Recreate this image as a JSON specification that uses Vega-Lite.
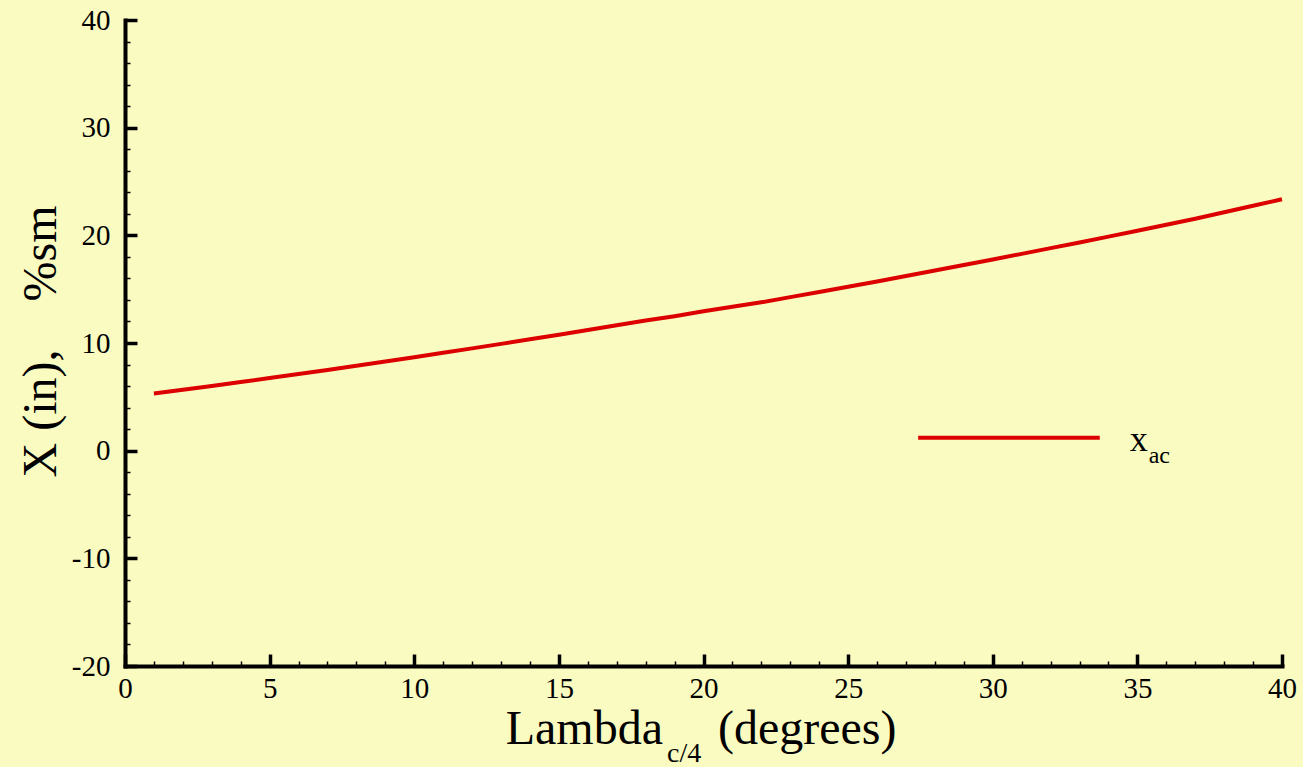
{
  "$schema": "https://vega.github.io/schema/vega-lite/v6.json",
  "width": 1157,
  "height": 646,
  "autosize": {"type": "none"},
  "padding": {"left": 125, "top": 20, "right": 21, "bottom": 101},
  "background": "#FAFBC0",
  "config": {
    "view": {"stroke": null},
    "font": "Liberation Serif",
    "axis": {
      "grid": false,
      "labelFont": "Liberation Serif", "labelFontSize": 29, "labelColor": "black",
      "labelFlush": false, "labelOverlap": false,
      "domainColor": "black", "domainWidth": 4, "domainCap": "square",
      "tickColor": "black"
    }
  },
  "data": {"values": [
    {"lambda": 1, "x_ac": 5.30}, {"lambda": 2, "x_ac": 5.65}, {"lambda": 3, "x_ac": 6.01}, {"lambda": 4, "x_ac": 6.37},
    {"lambda": 5, "x_ac": 6.74}, {"lambda": 6, "x_ac": 7.12}, {"lambda": 7, "x_ac": 7.50}, {"lambda": 8, "x_ac": 7.89},
    {"lambda": 9, "x_ac": 8.28}, {"lambda": 10, "x_ac": 8.68}, {"lambda": 11, "x_ac": 9.09}, {"lambda": 12, "x_ac": 9.50},
    {"lambda": 13, "x_ac": 9.92}, {"lambda": 14, "x_ac": 10.34}, {"lambda": 15, "x_ac": 10.77}, {"lambda": 16, "x_ac": 11.20},
    {"lambda": 17, "x_ac": 11.64}, {"lambda": 18, "x_ac": 12.09}, {"lambda": 19, "x_ac": 12.49}, {"lambda": 20, "x_ac": 12.95},
    {"lambda": 21, "x_ac": 13.36}, {"lambda": 22, "x_ac": 13.78}, {"lambda": 23, "x_ac": 14.26}, {"lambda": 24, "x_ac": 14.74},
    {"lambda": 25, "x_ac": 15.23}, {"lambda": 26, "x_ac": 15.72}, {"lambda": 27, "x_ac": 16.22}, {"lambda": 28, "x_ac": 16.73},
    {"lambda": 29, "x_ac": 17.24}, {"lambda": 30, "x_ac": 17.76}, {"lambda": 31, "x_ac": 18.28}, {"lambda": 32, "x_ac": 18.81},
    {"lambda": 33, "x_ac": 19.34}, {"lambda": 34, "x_ac": 19.88}, {"lambda": 35, "x_ac": 20.43}, {"lambda": 36, "x_ac": 20.98},
    {"lambda": 37, "x_ac": 21.54}, {"lambda": 38, "x_ac": 22.15}, {"lambda": 39, "x_ac": 22.75}, {"lambda": 40, "x_ac": 23.35}
  ]},
  "resolve": {"axis": {"x": "independent", "y": "independent"}},
  "layer": [
    {
      "data": {"values": [{}]},
      "mark": {"type": "rule", "color": "#DD0000", "strokeWidth": 4},
      "encoding": {
        "x": {"datum": 27.42, "scale": {"domain": [0, 40], "nice": false, "zero": false}, "axis": {
          "orient": "bottom", "title": null, "labels": false, "domain": false,
          "values": [1,2,3,4,6,7,8,9,11,12,13,14,16,17,18,19,21,22,23,24,26,27,28,29,31,32,33,34,36,37,38,39],
          "tickSize": -5, "tickWidth": 1.5
        }},
        "x2": {"datum": 33.70},
        "y": {"datum": 1.21, "scale": {"domain": [-20, 40], "nice": false, "zero": false}, "axis": {
          "orient": "left", "title": null, "labels": false, "domain": false,
          "values": [-18,-16,-14,-12,-8,-6,-4,-2,2,4,6,8,12,14,16,18,22,24,26,28,32,34,36,38],
          "tickSize": -5, "tickWidth": 1.5
        }}
      }
    },
    {
      "mark": {"type": "line", "color": "#DD0000", "strokeWidth": 4, "clip": false},
      "encoding": {
        "x": {
          "field": "lambda", "type": "quantitative",
          "axis": {
            "orient": "bottom",
            "title": null,
            "values": [0, 5, 10, 15, 20, 25, 30, 35, 40],
            "labelExpr": "'' + datum.value",
            "labelPadding": 20,
            "tickSize": -12, "tickWidth": 3.5
          }
        },
        "y": {
          "field": "x_ac", "type": "quantitative",
          "axis": {
            "orient": "left",
            "title": "X (in),\u00a0\u00a0\u00a0\u00a0%sm",
            "titleFont": "Liberation Serif", "titleFontSize": 48, "titleFontWeight": "normal", "titleColor": "black",
            "titleBaseline": "alphabetic", "titleX": -70, "titleY": 321, "titleAngle": -90, "titleAlign": "center",
            "values": [-20, -10, 0, 10, 20, 30, 40],
            "labelExpr": "'' + datum.value",
            "labelPadding": 27,
            "tickSize": -12, "tickWidth": 3.5
          }
        }
      }
    },
    {
      "data": {"values": [{}]},
      "mark": {"type": "text", "fontSize": 36, "align": "left", "baseline": "alphabetic", "color": "black", "font": "Liberation Serif"},
      "encoding": {
        "x": {"datum": 34.74, "axis": null},
        "y": {"datum": 0, "axis": null},
        "text": {"value": "x"}
      }
    },
    {
      "data": {"values": [{}]},
      "mark": {"type": "text", "fontSize": 24, "align": "left", "baseline": "alphabetic", "color": "black", "font": "Liberation Serif"},
      "encoding": {
        "x": {"datum": 35.39, "axis": null},
        "y": {"datum": -1.11, "axis": null},
        "text": {"value": "ac"}
      }
    },
    {
      "data": {"values": [{}]},
      "mark": {"type": "text", "fontSize": 48, "align": "right", "baseline": "alphabetic", "color": "black", "font": "Liberation Serif"},
      "encoding": {
        "x": {"datum": 18.60, "axis": null},
        "y": {"datum": -27.21, "axis": null},
        "text": {"value": "Lambda"}
      }
    },
    {
      "data": {"values": [{}]},
      "mark": {"type": "text", "fontSize": 28, "align": "left", "baseline": "alphabetic", "color": "black", "font": "Liberation Serif"},
      "encoding": {
        "x": {"datum": 18.74, "axis": null},
        "y": {"datum": -28.9, "axis": null},
        "text": {"value": "c/4"}
      }
    },
    {
      "data": {"values": [{}]},
      "mark": {"type": "text", "fontSize": 48, "align": "left", "baseline": "alphabetic", "color": "black", "font": "Liberation Serif"},
      "encoding": {
        "x": {"datum": 20.50, "axis": null},
        "y": {"datum": -27.21, "axis": null},
        "text": {"value": "(degrees)"}
      }
    }
  ]
}
